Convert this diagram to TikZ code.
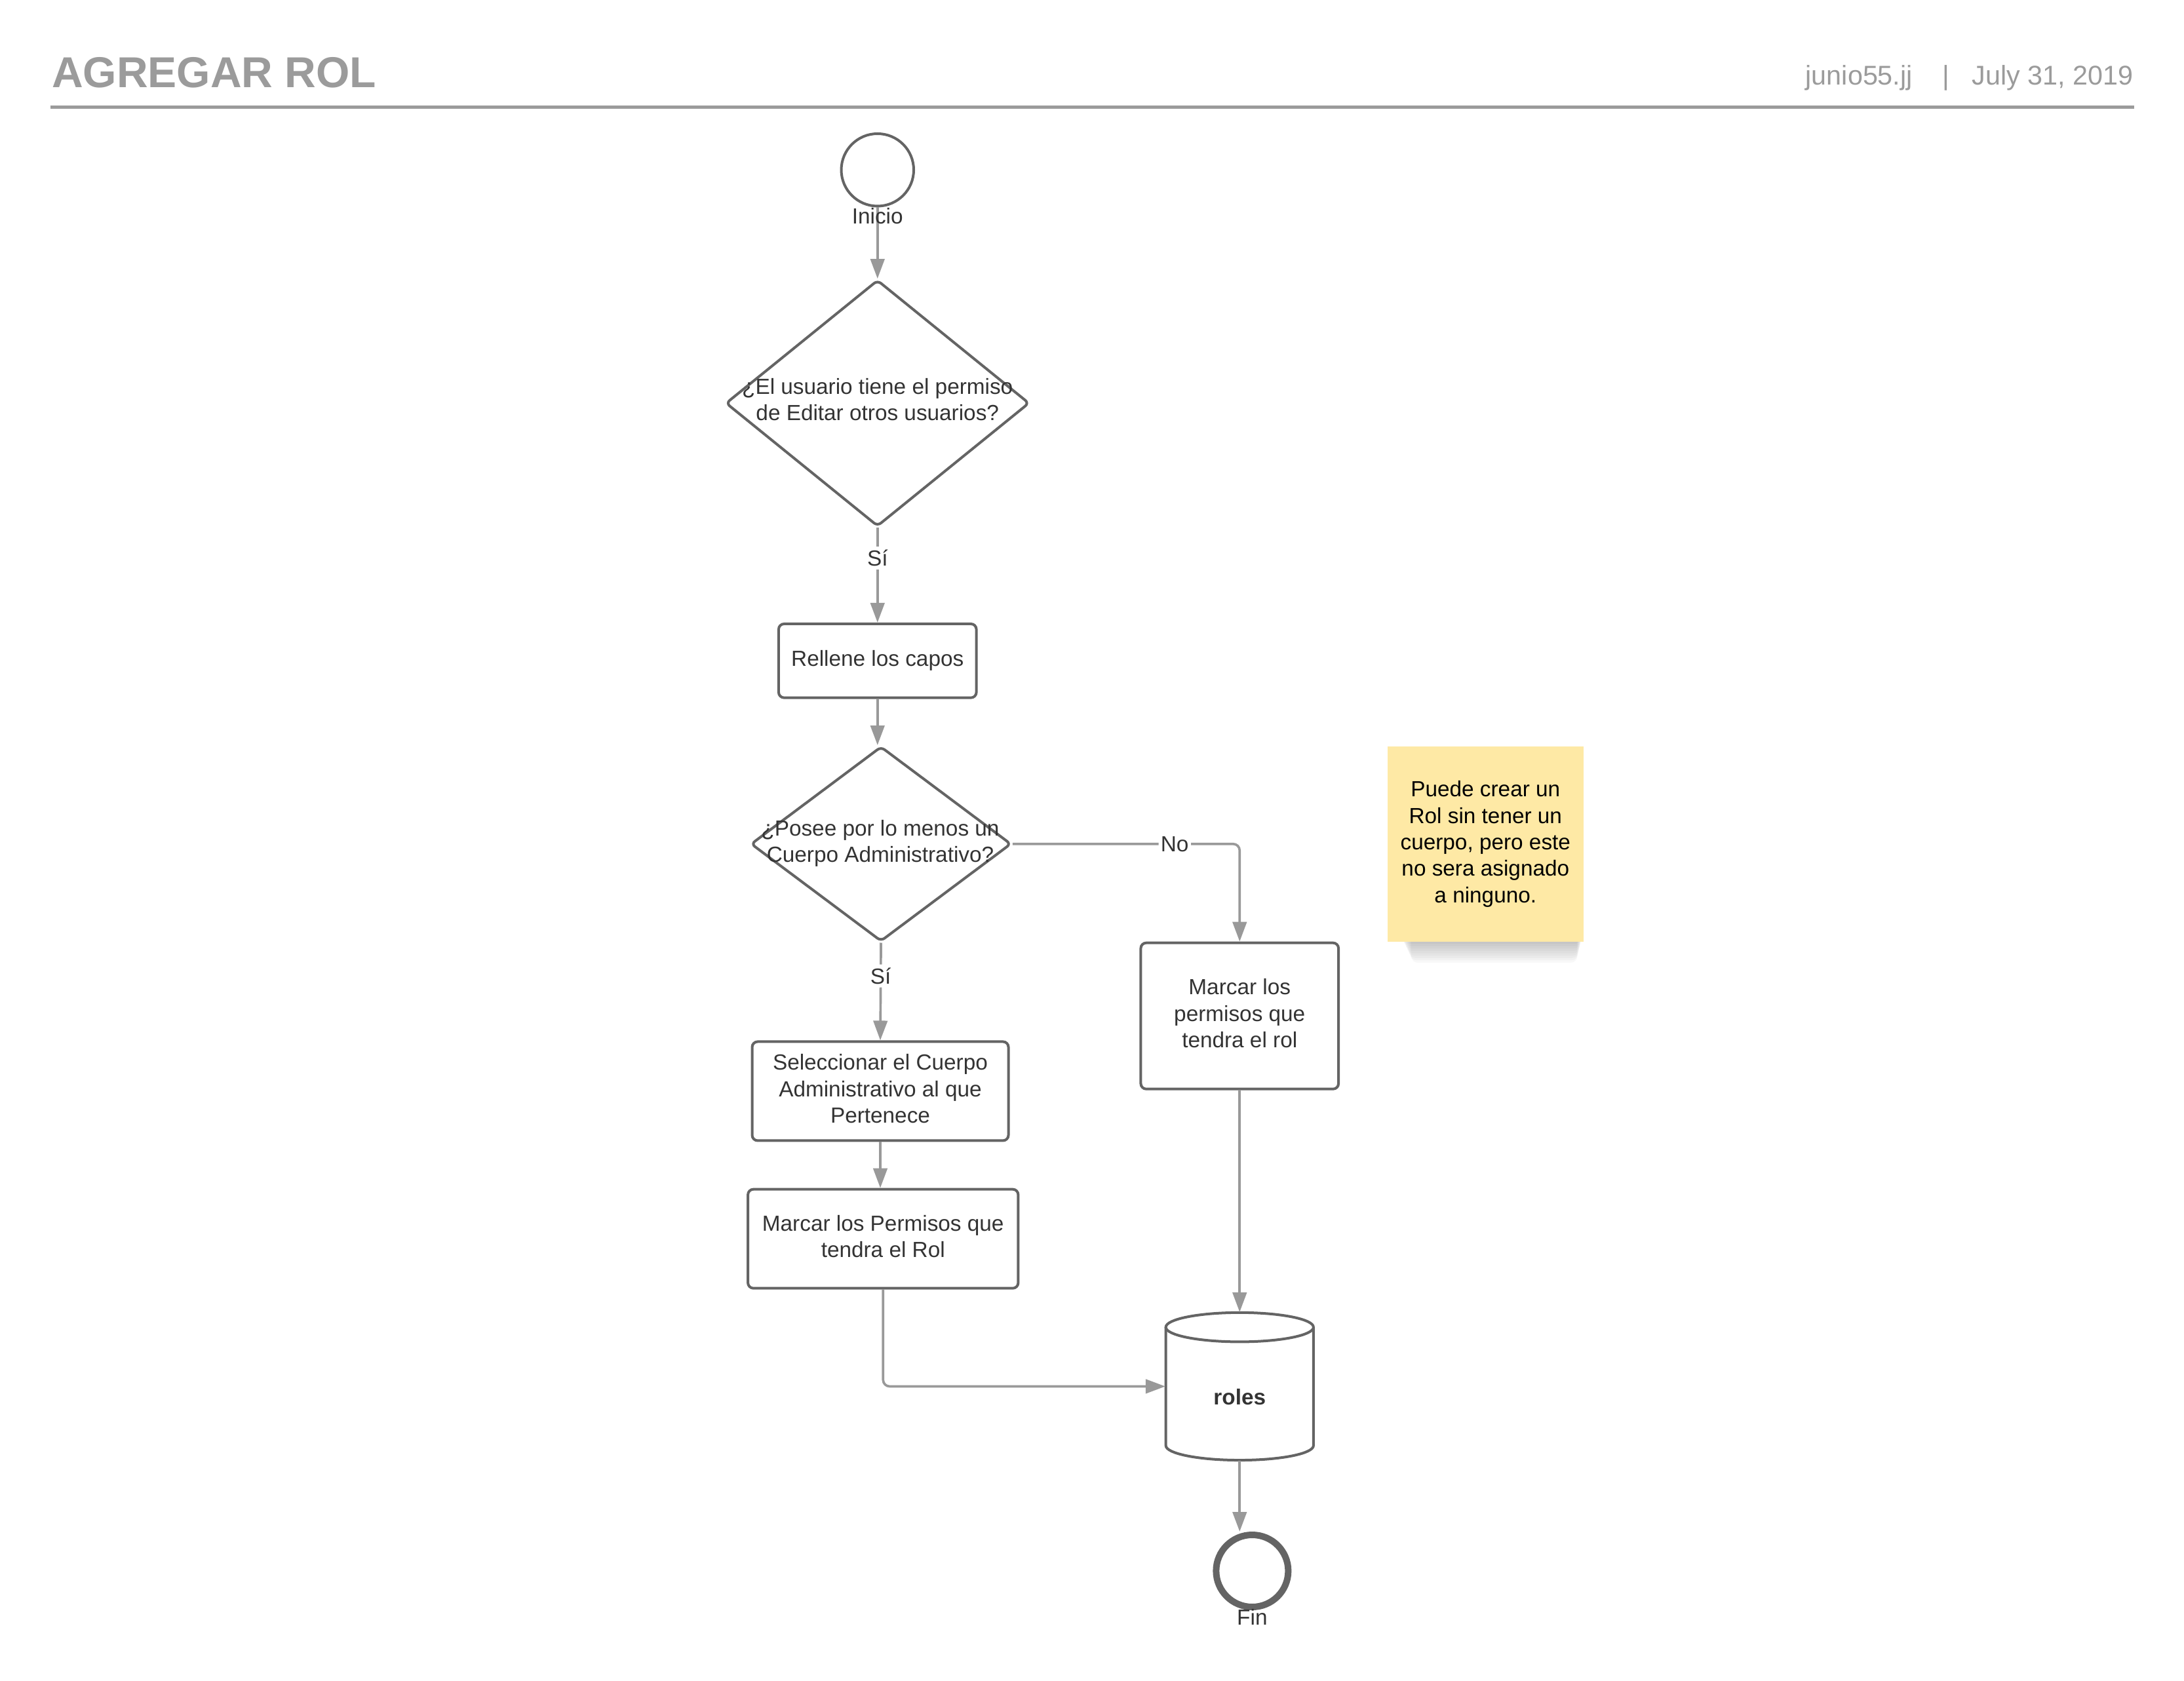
\documentclass[tikz,border=0pt]{standalone}
\usepackage{fontspec}
\setmainfont{Liberation Sans}
\usetikzlibrary{arrows.meta,shapes.geometric}
\definecolor{shapegray}{HTML}{646464}
\definecolor{linegray}{HTML}{999999}
\definecolor{txtgray}{HTML}{333333}
\definecolor{headgray}{HTML}{9B9B9B}
\definecolor{notefill}{HTML}{FEE9A5}
% centred multi-line text block set with struts on every line
\newcommand{\boxlines}[1]{\begin{tabular}{@{}c@{}}#1\end{tabular}}

\begin{document}
\begin{tikzpicture}[x=0.6375pt, y=-0.6375pt,
  every node/.style={font=\fontsize{10}{12.1}\selectfont, text=txtgray},
  stepbox/.style={draw=shapegray, line width=1.2pt, rounded corners=2.5pt, fill=white,
    align=center, inner sep=0pt},
  decision/.style={draw=shapegray, line width=1.2pt, diamond, rounded corners=2pt,
    fill=white, inner sep=0pt},
  terminal/.style={circle, draw=shapegray, fill=white, inner sep=0pt},
  conn/.style={draw=linegray, line width=1.1pt, -{Triangle[length=9pt,width=6.4pt]},
    rounded corners=3pt},
  flowlabel/.style={fill=white, inner sep=1.5pt},
  headtext/.style={font=\fontsize{12.4}{14}\selectfont, text=headgray, inner sep=0pt},
]
\useasboundingbox (0,0) rectangle (1568,1207);

% header
\node[anchor=base west, font=\fontsize{19.8}{24}\selectfont\bfseries, text=headgray,
  inner sep=0pt] (title) at (37,63) {AGREGAR ROL};
\node[headtext, anchor=base west] (author) at (1296,61) {junio55.jj};
\node[headtext, anchor=base] (sep) at (1397,61) {|};
\node[headtext, anchor=base east] (date) at (1532,61) {July 31, 2019};
\coordinate (ruleL) at (36,77);
\coordinate (ruleR) at (1532,77);
\draw[headgray, line width=1.3pt] (ruleL) -- (ruleR);

% flow shapes
\node[terminal, line width=1.2pt, minimum size=33.15pt] (start) at (630,122) {};
\node[decision, minimum width=139pt, minimum height=112.8pt] (d1) at (630,289.5) {};
\node[align=center] (d1text) at (630,287) {¿El usuario tiene el permiso\\de Editar otros usuarios?};
\node[stepbox, minimum width=90.5pt, minimum height=33.8pt] (b1) at (630,474.5) {Rellene los capos};
\node[decision, minimum width=119.2pt, minimum height=89.25pt] (d2) at (632.5,606) {};
\node[align=center] (d2text) at (632,605.5) {¿Posee por lo menos un\\Cuerpo Administrativo?};
\node[stepbox, minimum width=117.3pt, minimum height=45.3pt] (b2) at (632,783.5)
  {\boxlines{Seleccionar el Cuerpo\\Administrativo al que\\Pertenece}};
\node[stepbox, minimum width=123.7pt, minimum height=45.3pt] (b3) at (634,889.5)
  {\boxlines{Marcar los Permisos que\\tendra el Rol}};
\node[stepbox, minimum width=90.5pt, minimum height=66.9pt] (b4) at (890,729.5)
  {\boxlines{Marcar los\\permisos que\\tendra el rol}};

% database cylinder
\node[minimum width=67.6pt, minimum height=67.6pt, inner sep=0pt] (roles) at (890,995.5) {};
\draw[fill=white, draw=shapegray, line width=1.2pt]
  (837,953) -- (837,1038) arc[start angle=180, end angle=360, x radius=33.79pt, y radius=6.69pt]
  -- (943,953);
\draw[fill=white, draw=shapegray, line width=1.2pt]
  (890,953) ellipse[x radius=33.79pt, y radius=6.69pt];
\node[font=\fontsize{10}{12.1}\selectfont\bfseries] (roleslbl) at (890,1003) {roles};

\node[terminal, line width=3pt, minimum size=33pt] (fin) at (899,1128) {};

% sticky note with soft shadow
\foreach \k in {1,...,9}{
  \fill[black, opacity=0.028, rounded corners=3pt]
    (1006+\k*0.8,668) rectangle (1136-\k*0.4,676+\k*1.7);
}
\node[fill=notefill, minimum width=89.9pt, minimum height=89.25pt, align=center,
  text=black, inner sep=0pt] (note) at (1066.5,606)
  {Puede crear un\\Rol sin tener un\\cuerpo, pero este\\no sera asignado\\a ninguno.};

% connectors
\draw[conn] (start.south) -- (d1.north);
\draw[conn] (d1.south) -- node[flowlabel, pos=0.32] (si1) {Sí} (b1.north);
\draw[conn] (b1.south) -- (b1.south |- d2.north);
\draw[conn] (d2.south) -- node[flowlabel, pos=0.34] (si2) {Sí} (b2.north);
\draw[conn] (d2.east) -| node[flowlabel, pos=0.357, inner sep=1pt] (no) {No} (b4.north);
\draw[conn] (b2.south) -- (b2.south |- b3.north);
\draw[conn] (b4.south) -- (roles.north);
\draw[conn] (b3.south) |- (roles.west);
\draw[conn] (roles.south) -- (roles.south |- fin.north);

% terminal captions
\node (startlbl) at (630,155) {Inicio};
\node (finlbl) at (899,1161) {Fin};
\end{tikzpicture}
\end{document}
